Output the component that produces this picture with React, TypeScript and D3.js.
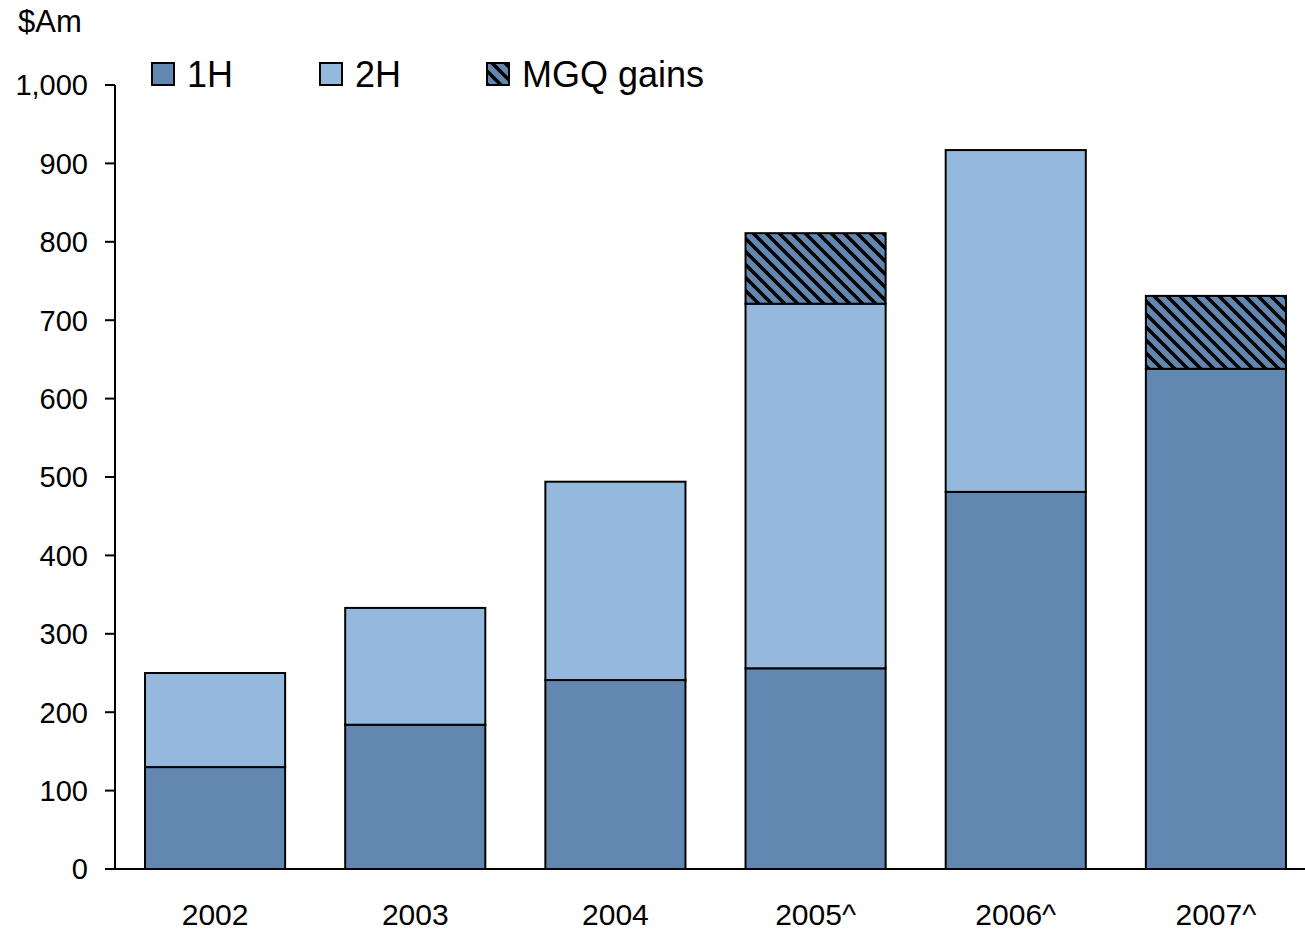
import React, { useEffect, useRef } from 'react';
import * as d3 from 'd3';

const years = ['2002', '2003', '2004', '2005^', '2006^', '2007^'];
const firstHalf = [130, 184, 241, 256, 481, 638];
const secondHalf = [120, 149, 253, 465, 436, 0];
const mgqGains = [0, 0, 0, 90, 0, 93];
const yTicks = [0, 100, 200, 300, 400, 500, 600, 700, 800, 900, 1000];

const colors = { h1: '#6287B0', h2: '#95B9DC' };

const App = () => {
  const ref = useRef<SVGSVGElement>(null);

  useEffect(() => {
    const width = 1305;
    const svg = d3.select(ref.current);
    svg.selectAll('*').remove();

    const left = 115;
    const bottom = 869;
    const top = 85;
    const right = 1316;

    const font = 'Liberation Sans, Arial, sans-serif';

    // hatch pattern for MGQ gains
    const tile = 13;
    const defs = svg.append('defs');
    const pat = defs
      .append('pattern')
      .attr('id', 'hatch')
      .attr('patternUnits', 'userSpaceOnUse')
      .attr('width', tile)
      .attr('height', tile);
    pat.append('rect').attr('width', tile).attr('height', tile).attr('fill', colors.h1);
    pat
      .append('path')
      .attr(
        'd',
        `M0,0 L${tile},${tile} M${-tile / 2},${tile / 2} L${tile / 2},${tile * 1.5} M${tile / 2},${-tile / 2} L${tile * 1.5},${tile / 2}`
      )
      .attr('stroke', '#000')
      .attr('stroke-width', 3.5);

    const x = d3.scaleBand().domain(years).range([left, right]).paddingInner(0.3).paddingOuter(0.15);
    const y = d3.scaleLinear().domain([0, 1000]).range([bottom, top]);

    const stackData = years.map((yr, i) => ({
      year: yr,
      h1: firstHalf[i],
      h2: secondHalf[i],
      mgq: mgqGains[i],
    }));
    const keys = ['h1', 'h2', 'mgq'];
    const stacked = d3.stack<any>().keys(keys)(stackData);
    const fills: Record<string, string> = { h1: colors.h1, h2: colors.h2, mgq: 'url(#hatch)' };

    stacked.forEach((layer) => {
      svg
        .append('g')
        .selectAll('rect')
        .data(layer.filter((d) => d[1] - d[0] > 0))
        .enter()
        .append('rect')
        .attr('x', (d) => x(d.data.year)!)
        .attr('width', x.bandwidth())
        .attr('y', (d) => y(d[1]))
        .attr('height', (d) => y(d[0]) - y(d[1]))
        .attr('fill', fills[layer.key])
        .attr('stroke', '#000')
        .attr('stroke-width', 2);
    });

    // y axis
    const yAxis = svg.append('g');
    yAxis
      .append('line')
      .attr('x1', left)
      .attr('x2', left)
      .attr('y1', y(1000))
      .attr('y2', bottom)
      .attr('stroke', '#000')
      .attr('stroke-width', 2);
    yTicks.forEach((t) => {
      yAxis
        .append('line')
        .attr('x1', left - 10)
        .attr('x2', left)
        .attr('y1', y(t))
        .attr('y2', y(t))
        .attr('stroke', '#000')
        .attr('stroke-width', 2);
      yAxis
        .append('text')
        .attr('x', 88)
        .attr('y', y(t))
        .attr('dy', '0.36em')
        .attr('text-anchor', 'end')
        .attr('font-family', font)
        .attr('font-size', 29)
        .text(d3.format(',')(t));
    });

    // x axis
    svg
      .append('line')
      .attr('x1', left - 10)
      .attr('x2', width)
      .attr('y1', bottom)
      .attr('y2', bottom)
      .attr('stroke', '#000')
      .attr('stroke-width', 2);
    years.forEach((yr) => {
      svg
        .append('text')
        .attr('x', x(yr)! + x.bandwidth() / 2)
        .attr('y', 925)
        .attr('text-anchor', 'middle')
        .attr('font-family', font)
        .attr('font-size', 30)
        .text(yr);
    });

    // unit label
    svg
      .append('text')
      .attr('x', 18)
      .attr('y', 32)
      .attr('font-family', font)
      .attr('font-size', 31)
      .text('$Am');

    // legend
    const legend = [
      { label: '1H', fill: colors.h1, x: 152 },
      { label: '2H', fill: colors.h2, x: 320 },
      { label: 'MGQ gains', fill: 'url(#hatch)', x: 487 },
    ];
    legend.forEach((l) => {
      svg
        .append('rect')
        .attr('x', l.x)
        .attr('y', 63)
        .attr('width', 22)
        .attr('height', 22)
        .attr('fill', l.fill)
        .attr('stroke', '#000')
        .attr('stroke-width', 2);
      svg
        .append('text')
        .attr('x', l.x + 35)
        .attr('y', 87)
        .attr('font-family', font)
        .attr('font-size', 36)
        .text(l.label);
    });
  }, []);

  return (
    <svg
      ref={ref}
      width={1305}
      height={930}
      style={{ position: 'absolute', left: 0, top: 0, background: '#fff' }}
    />
  );
};

export default App;
